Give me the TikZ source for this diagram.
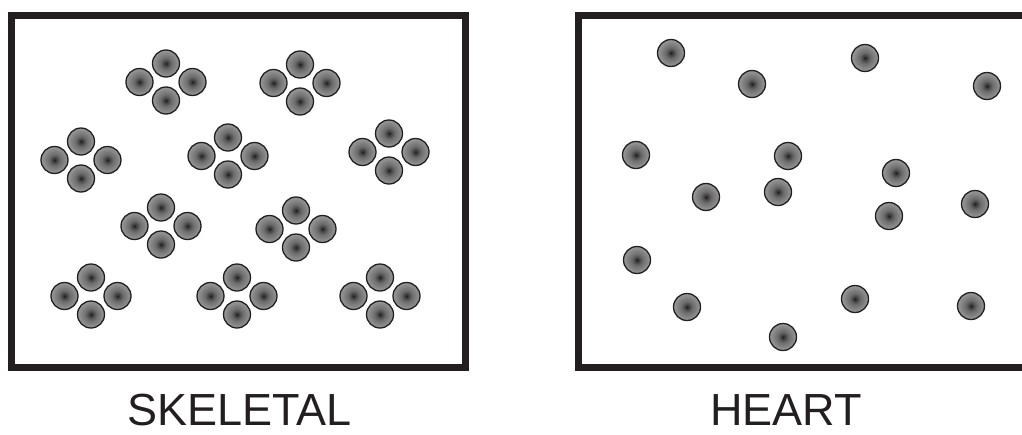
\documentclass[tikz,border=0pt]{standalone}
\usepackage{fontspec}
\newfontfamily\labelfont{Liberation Sans}
\definecolor{inkblk}{HTML}{231F20}
\pgfdeclareradialshading{cellshade}{\pgfpoint{0bp}{0bp}}{%
  color(0bp)=(black!92); color(2.5bp)=(black!78); color(10bp)=(black!58);
  color(25bp)=(black!40); color(50bp)=(black!40)}

\begin{document}
\begin{tikzpicture}[
  x=1pt, y=-1pt,
  frame/.style={draw=inkblk, line width=7pt},
  cell/.style={circle, draw=inkblk, line width=1.3pt, minimum size=27pt,
    inner sep=0pt, shading=cellshade},
  lbl/.style={font=\labelfont\fontsize{45}{50}\selectfont, text=inkblk,
    anchor=base, inner sep=0pt},
]

\useasboundingbox (0,0) rectangle (1022,434);

% === Frames ===
\draw[frame] (11,15.5) rectangle (465,367);
\draw[frame] (578,15.5) rectangle (1040,367);

% === Skeletal: clusters of four ===
\foreach \cx/\cy [count=\i] in {166/82, 300/83, 81/160, 228/156, 389/152,
    161/226, 296/229, 91/296, 237/296, 380/296} {
  \node[cell] (sk\i-t) at (\cx,{\cy-18.5}) {};
  \node[cell] (sk\i-l) at ({\cx-26.5},\cy) {};
  \node[cell] (sk\i-r) at ({\cx+26.5},\cy) {};
  \node[cell] (sk\i-b) at (\cx,{\cy+18.5}) {};
}

% === Heart: single cells ===
\foreach \hx/\hy [count=\i] in {671/53, 752/84, 865/58, 987/86, 636/155,
    788/156, 896/173, 706/197, 778/192, 975/204, 889/216, 637/260,
    687/307, 855/299, 971/306, 783/337} {
  \node[cell] (ht\i) at (\hx,\hy) {};
}

% === Labels ===
\node[lbl] (skel) at (239.5,425) {SKELETAL};
\node[lbl] (heart) at (786,425) {HEART};

\end{tikzpicture}
\end{document}
